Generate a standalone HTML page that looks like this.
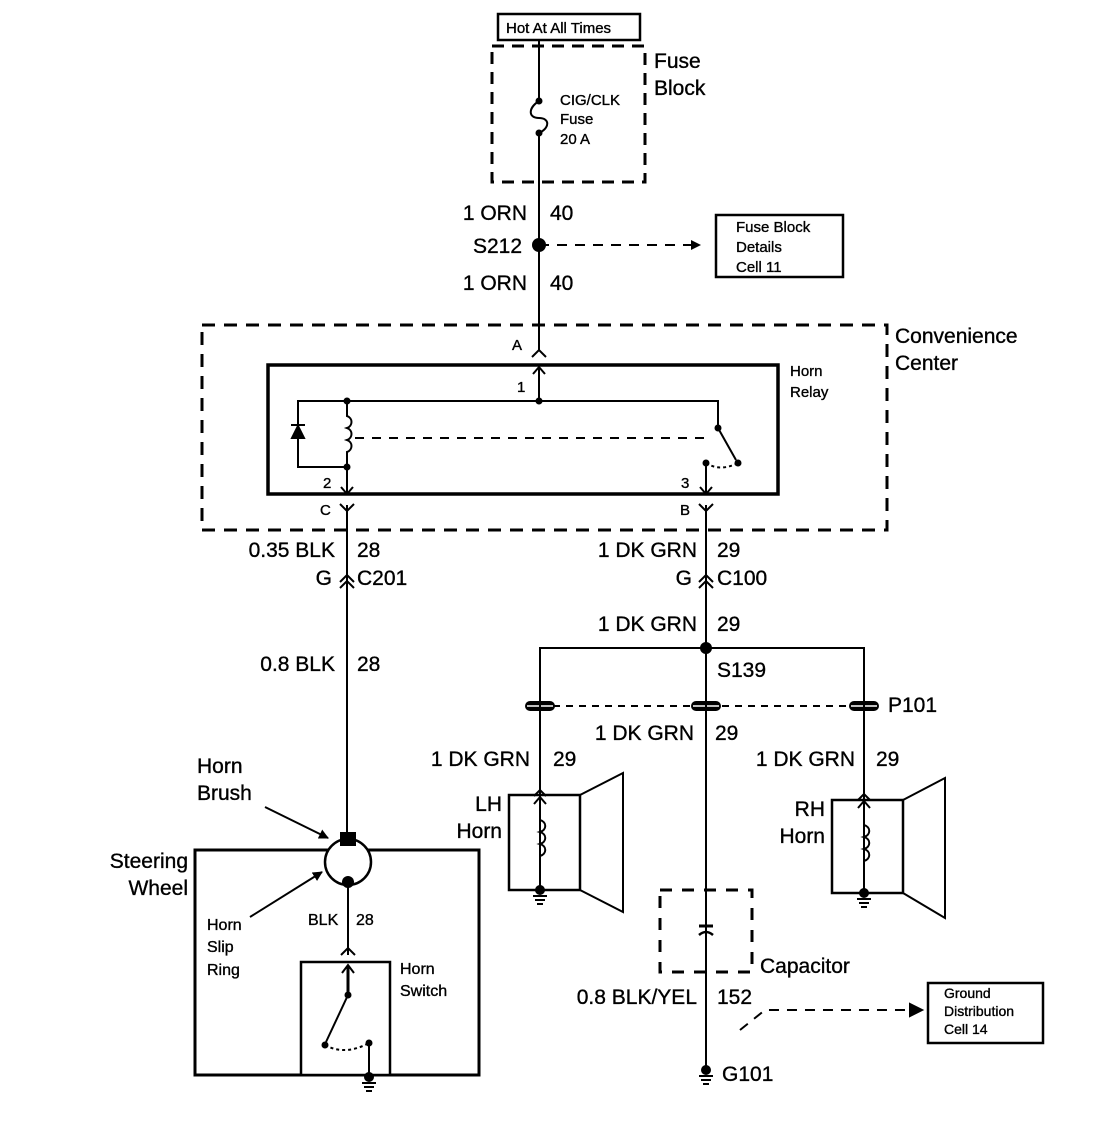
<!DOCTYPE html>
<html><head><meta charset="utf-8"><style>
html,body{margin:0;padding:0;background:#fff;}
svg{display:block;}
text{font-family:"Liberation Sans",Arial,sans-serif;fill:#000;stroke:#000;stroke-width:0.35px;}
.b{font-size:21px;}
.s{font-size:15px;}
</style></head><body>
<svg width="1120" height="1138" viewBox="0 0 1120 1138" xmlns="http://www.w3.org/2000/svg">
<defs><marker id="ah" markerWidth="10" markerHeight="10" refX="9" refY="5" orient="auto" markerUnits="userSpaceOnUse"><path d="M0,0 L10,5 L0,10 z" fill="#000"/></marker></defs>
<g stroke="#000" fill="none" stroke-width="2">
<rect x="498" y="14" width="142" height="26" stroke-width="2.5"/>
<rect x="492" y="46" width="153" height="136" stroke-width="3" stroke-dasharray="12,8"/>
<line x1="539" y1="40" x2="539" y2="101"/>
<path d="M539,101 C528,108 528,118 539,118 C550,118 550,128 539,133"/>
<line x1="539" y1="133" x2="539" y2="350"/>
<line x1="539" y1="245" x2="700" y2="245" stroke-dasharray="10,8" marker-end="url(#ah)"/>
<rect x="716" y="215" width="127" height="62" stroke-width="2.5"/>
<path d="M532,357 L539,350 L546,357"/>
<rect x="202" y="325" width="685" height="205" stroke-width="3" stroke-dasharray="13,9"/>
<rect x="268" y="365" width="510" height="129" stroke-width="3.5"/>
<line x1="539" y1="401" x2="539" y2="368"/><path d="M533,374 L539,367 L545,374"/>
<path d="M347,401 L298,401 L298,467 L347,467"/>
<path d="M347,401 L718,401 L718,428"/>
<path d="M347,401 L347,416 c6,2 6,10 0,12 c6,2 6,10 0,12 c6,2 6,10 0,12 L347,494"/>
<path d="M291,425 L305,425"/><path d="M298,426 L292,438 L304,438 z" fill="#000"/>
<line x1="355" y1="438" x2="712" y2="438" stroke-dasharray="9,8"/>
<line x1="718" y1="428" x2="736" y2="460"/>
<path d="M706,463 Q720,472 738,463" stroke-dasharray="3,3"/>
<line x1="706" y1="463" x2="706" y2="494"/>
<path d="M341,487 L347,494 L353,487"/><path d="M700,487 L706,494 L712,487"/>
<path d="M340,504 L347,511 L354,504"/><path d="M699,504 L706,511 L713,504"/>
<line x1="347" y1="505" x2="347" y2="840"/>
<line x1="706" y1="505" x2="706" y2="1070"/>
<path d="M340,582 L347,575 L354,582"/><path d="M340,588 L347,581 L354,588"/>
<path d="M699,582 L706,575 L713,582"/><path d="M699,588 L706,581 L713,588"/>
<path d="M540,893 L540,648 L864,648 L864,895"/>
<line x1="540" y1="706" x2="864" y2="706" stroke-dasharray="7,6"/>
<rect x="509" y="795" width="71" height="95" stroke-width="2.5"/>
<path d="M580,795 L623,773 L623,912 L580,890"/>
<path d="M534,796 L540,790 L546,796"/><path d="M534,804 L540,797 L546,804"/>
<path d="M540,820 c7,2 7,10 0,12 c7,2 7,10 0,12 c7,2 7,10 0,12"/>
<rect x="832" y="800" width="71" height="93" stroke-width="2.5"/>
<path d="M903,800 L945,778 L945,918 L903,893"/>
<path d="M858,800 L864,794 L870,800"/><path d="M858,808 L864,801 L870,808"/>
<path d="M864,825 c7,2 7,10 0,12 c7,2 7,10 0,12 c7,2 7,10 0,12"/>
<rect x="660" y="890" width="92" height="82" stroke-width="3" stroke-dasharray="12,10"/>
<line x1="699" y1="926" x2="713" y2="926" stroke-width="3"/>
<path d="M699,935 Q706,929 713,935" stroke-width="2.5"/>
<path d="M740,1030 L765,1010 L912,1010" stroke-dasharray="10,8"/>
<path d="M910,1004 L922,1010 L910,1016 z" fill="#000"/>
<rect x="928" y="983" width="115" height="60" stroke-width="2.5"/>
<rect x="195" y="850" width="284" height="225" stroke-width="3"/>
<circle cx="348" cy="862" r="23" fill="#fff" stroke-width="2.5"/>
<line x1="265" y1="807" x2="328" y2="838" marker-end="url(#ah)"/>
<line x1="250" y1="917" x2="322" y2="872" marker-end="url(#ah)"/>
<line x1="348" y1="882" x2="348" y2="955"/>
<path d="M341,955 L348,948 L355,955"/>
<rect x="301" y="962" width="89" height="113" stroke-width="2.5" fill="#fff"/>
<line x1="348" y1="995" x2="348" y2="966" stroke-width="3"/><path d="M342,973 L348,965 L354,973"/>
<line x1="348" y1="995" x2="326" y2="1042"/>
<path d="M325,1045 Q345,1056 369,1043" stroke-dasharray="3,3"/>
<line x1="369" y1="1043" x2="369" y2="1075"/>
</g>
<g fill="#000">
<circle cx="539" cy="101" r="3.5"/><circle cx="539" cy="133" r="3.5"/>
<circle cx="539" cy="245" r="7"/>
<circle cx="347" cy="401" r="3.5"/><circle cx="539" cy="401" r="3.5"/><circle cx="347" cy="467" r="3.5"/>
<circle cx="718" cy="428" r="3.5"/><circle cx="738" cy="463" r="3.5"/><circle cx="706" cy="463" r="3.5"/>
<circle cx="706" cy="648" r="6"/>
<rect x="340" y="832" width="16" height="14"/>
<circle cx="348" cy="882" r="6"/>
<circle cx="348" cy="995" r="3.5"/><circle cx="325" cy="1045" r="3.5"/><circle cx="369" cy="1043" r="3.5"/>
<rect x="525" y="701" width="30" height="10" rx="5"/><rect x="691" y="701" width="30" height="10" rx="5"/><rect x="849" y="701" width="30" height="10" rx="5"/>
<g id="g1"><circle cx="540" cy="890" r="5"/><rect x="533" y="895" width="14" height="2"/><rect x="535" y="899" width="10" height="2"/><rect x="537" y="903" width="6" height="2"/></g>
<use href="#g1" x="324" y="3"/>
<use href="#g1" x="166" y="180"/>
<use href="#g1" x="-171" y="187"/>
</g>
<g stroke="#fff" stroke-width="1.5"><line x1="527" y1="706" x2="553" y2="706"/><line x1="693" y1="706" x2="719" y2="706"/><line x1="851" y1="706" x2="877" y2="706"/></g>
<g stroke="#000" stroke-width="2"><line x1="540" y1="700" x2="540" y2="712"/><line x1="706" y1="700" x2="706" y2="712"/><line x1="864" y1="700" x2="864" y2="712"/></g>
<text x="506" y="33" class="s">Hot At All Times</text>
<text x="654" y="68" class="b">Fuse</text><text x="654" y="95" class="b">Block</text>
<text x="560" y="105" class="s">CIG/CLK</text><text x="560" y="124" class="s">Fuse</text><text x="560" y="144" class="s">20 A</text>
<text x="527" y="220" class="b" text-anchor="end">1 ORN</text><text x="550" y="220" class="b">40</text>
<text x="522" y="253" class="b" text-anchor="end">S212</text>
<text x="527" y="290" class="b" text-anchor="end">1 ORN</text><text x="550" y="290" class="b">40</text>
<text x="736" y="232" class="s">Fuse Block</text><text x="736" y="252" class="s">Details</text><text x="736" y="272" class="s">Cell 11</text>
<text x="512" y="350" class="s">A</text>
<text x="895" y="343" class="b">Convenience</text><text x="895" y="370" class="b">Center</text>
<text x="790" y="376" class="s">Horn</text><text x="790" y="397" class="s">Relay</text>
<text x="517" y="392" class="s">1</text><text x="323" y="488" class="s">2</text><text x="681" y="488" class="s">3</text>
<text x="320" y="515" class="s">C</text><text x="680" y="515" class="s">B</text>
<text x="335" y="557" class="b" text-anchor="end">0.35 BLK</text><text x="357" y="557" class="b">28</text>
<text x="332" y="585" class="b" text-anchor="end">G</text><text x="357" y="585" class="b">C201</text>
<text x="697" y="557" class="b" text-anchor="end">1 DK GRN</text><text x="717" y="557" class="b">29</text>
<text x="692" y="585" class="b" text-anchor="end">G</text><text x="717" y="585" class="b">C100</text>
<text x="697" y="631" class="b" text-anchor="end">1 DK GRN</text><text x="717" y="631" class="b">29</text>
<text x="717" y="677" class="b">S139</text>
<text x="335" y="671" class="b" text-anchor="end">0.8 BLK</text><text x="357" y="671" class="b">28</text>
<text x="888" y="712" class="b">P101</text>
<text x="694" y="740" class="b" text-anchor="end">1 DK GRN</text><text x="715" y="740" class="b">29</text>
<text x="530" y="766" class="b" text-anchor="end">1 DK GRN</text><text x="553" y="766" class="b">29</text>
<text x="855" y="766" class="b" text-anchor="end">1 DK GRN</text><text x="876" y="766" class="b">29</text>
<text x="502" y="811" class="b" text-anchor="end">LH</text><text x="502" y="838" class="b" text-anchor="end">Horn</text>
<text x="825" y="816" class="b" text-anchor="end">RH</text><text x="825" y="843" class="b" text-anchor="end">Horn</text>
<text x="760" y="973" class="b">Capacitor</text>
<text x="697" y="1004" class="b" text-anchor="end">0.8 BLK/YEL</text><text x="717" y="1004" class="b">152</text>
<text x="722" y="1081" class="b">G101</text>
<text x="944" y="998" style="font-size:14px">Ground</text><text x="944" y="1016" style="font-size:14px">Distribution</text><text x="944" y="1034" style="font-size:14px">Cell 14</text>
<text x="197" y="773" class="b">Horn</text><text x="197" y="800" class="b">Brush</text>
<text x="188" y="868" class="b" text-anchor="end">Steering</text><text x="188" y="895" class="b" text-anchor="end">Wheel</text>
<text x="207" y="930" style="font-size:16px">Horn</text><text x="207" y="952" style="font-size:16px">Slip</text><text x="207" y="975" style="font-size:16px">Ring</text>
<text x="308" y="925" style="font-size:16px">BLK</text><text x="356" y="925" style="font-size:16px">28</text>
<text x="400" y="974" style="font-size:16px">Horn</text><text x="400" y="996" style="font-size:16px">Switch</text>
</svg>
</body></html>
